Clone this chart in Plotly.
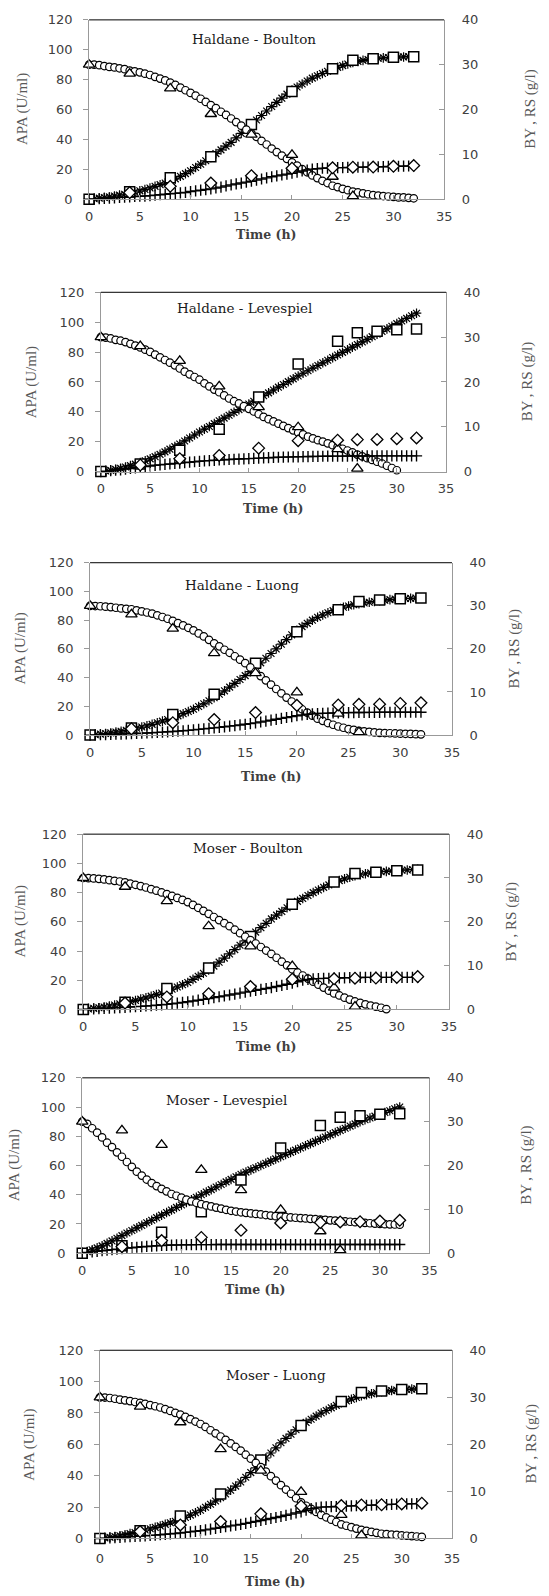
import plotly.graph_objects as go

W, H = 549, 1596

# ---------------- time grid of the model curves (h) ----------------
TIME = [0.0, 0.5, 1.0, 1.5, 2.0, 2.5, 3.0, 3.5, 4.0, 4.5,
        5.0, 5.5, 6.0, 6.5, 7.0, 7.5, 8.0, 8.5, 9.0, 9.5,
        10.0, 10.5, 11.0, 11.5, 12.0, 12.5, 13.0, 13.5, 14.0, 14.5,
        15.0, 15.5, 16.0, 16.5, 17.0, 17.5, 18.0, 18.5, 19.0, 19.5,
        20.0, 20.5, 21.0, 21.5, 22.0, 22.5, 23.0, 23.5, 24.0, 24.5,
        25.0, 25.5, 26.0, 26.5, 27.0, 27.5, 28.0, 28.5, 29.0, 29.5,
        30.0, 30.5, 31.0, 31.5, 32.0]

# ---------------- experimental data ----------------
T_APA_EXP = [0, 4, 8, 12, 16, 20, 24, 26, 28, 30, 32]
APA_EXP = [0.0, 5.0, 14.3, 28.4, 50.0, 72.0, 87.3, 93.0, 94.0, 95.0, 95.4]      # U/ml
T_RS_EXP = [0, 4, 8, 12, 16, 20, 24, 26]
RS_EXP = [30.0, 28.0, 24.7, 19.0, 14.4, 9.9, 5.0, 0.67]                          # g/l
T_BY_EXP = [4, 8, 12, 16, 20, 24, 26, 28, 30, 32]
BY_EXP = [1.47, 2.87, 3.6, 5.23, 6.9, 7.0, 7.13, 7.17, 7.33, 7.5]                # g/l

# ---------------- model curves ----------------
# Haldane - Boulton
HB_APA = [0.0, 0.3, 0.7, 1.1, 1.5, 2.1, 2.7, 3.3, 4.0, 4.8,
          5.6, 6.5, 7.5, 8.6, 9.7, 10.8, 12.0, 13.6, 15.3, 17.1,
          19.0, 21.2, 23.4, 25.7, 28.0, 30.5, 33.0, 35.5, 38.0, 41.0,
          44.0, 47.0, 50.0, 53.0, 56.0, 59.0, 62.0, 64.8, 67.6, 70.3,
          73.0, 75.1, 77.1, 79.1, 81.0, 82.6, 84.1, 85.6, 87.0, 88.2,
          89.4, 90.5, 91.5, 92.2, 92.9, 93.5, 94.0, 94.3, 94.6, 94.8,
          95.0, 95.1, 95.2, 95.4, 95.5]
HB_RS = [30.0, 30.0, 29.9, 29.7, 29.5, 29.4, 29.2, 29.0, 28.7, 28.5,
         28.3, 28.0, 27.7, 27.3, 26.9, 26.5, 26.0, 25.5, 24.9, 24.3,
         23.7, 23.1, 22.4, 21.7, 21.0, 20.3, 19.5, 18.8, 18.0, 17.2,
         16.4, 15.5, 14.7, 13.9, 13.0, 12.2, 11.3, 10.5, 9.7, 9.0,
         8.2, 7.5, 6.7, 6.0, 5.3, 4.7, 4.1, 3.6, 3.0, 2.7,
         2.3, 2.0, 1.7, 1.5, 1.3, 1.1, 0.9, 0.8, 0.7, 0.6,
         0.5, 0.4, 0.4, 0.3, 0.2]
HB_BY = [0.0, 0.05, 0.1, 0.2, 0.25, 0.3, 0.4, 0.45, 0.5, 0.6,
         0.65, 0.7, 0.8, 0.9, 1.0, 1.1, 1.2, 1.3, 1.4, 1.5,
         1.7, 1.85, 2.0, 2.15, 2.3, 2.5, 2.7, 2.95, 3.2, 3.4,
         3.6, 3.8, 4.0, 4.25, 4.5, 4.75, 5.0, 5.2, 5.4, 5.6,
         5.8, 6.05, 6.3, 6.5, 6.7, 6.8, 6.9, 6.95, 7.0, 7.03,
         7.05, 7.08, 7.1, 7.12, 7.15, 7.18, 7.2, 7.23, 7.25, 7.3,
         7.33, 7.35, 7.38, 7.4, 7.43]

# Haldane - Levespiel
HL_APA = [0.0, 0.4, 0.8, 1.5, 2.2, 3.1, 4.0, 5.0, 6.0, 7.2,
          8.5, 10.0, 11.5, 13.2, 15.0, 16.7, 18.5, 20.5, 22.5, 24.5,
          26.5, 28.4, 30.2, 32.1, 34.0, 35.8, 37.7, 39.6, 41.5, 43.3,
          45.2, 47.1, 49.0, 50.8, 52.7, 54.6, 56.5, 58.3, 60.2, 62.1,
          64.0, 65.8, 67.5, 69.3, 71.0, 72.8, 74.5, 76.3, 78.0, 79.8,
          81.5, 83.3, 85.0, 86.8, 88.5, 90.3, 92.0, 93.8, 95.5, 97.3,
          99.0, 100.8, 102.5, 104.3, 106.0]
HL_RS = [30.0, 29.9, 29.7, 29.4, 29.2, 28.9, 28.5, 28.1, 27.7, 27.2,
         26.7, 26.1, 25.5, 24.9, 24.3, 23.7, 23.0, 22.3, 21.7, 21.1,
         20.5, 19.7, 19.0, 18.3, 17.7, 17.0, 16.3, 15.7, 15.2, 14.6,
         14.0, 13.4, 12.8, 12.2, 11.7, 11.2, 10.7, 10.2, 9.7, 9.2,
         8.7, 8.3, 7.8, 7.4, 7.0, 6.7, 6.3, 5.9, 5.5, 5.1,
         4.7, 4.3, 3.8, 3.4, 3.0, 2.6, 2.2, 1.8, 1.3, 0.8,
         0.3]
HL_BY = [0.0, 0.1, 0.2, 0.3, 0.4, 0.55, 0.7, 0.85, 1.0, 1.15,
         1.25, 1.4, 1.5, 1.6, 1.7, 1.8, 1.9, 2.0, 2.1, 2.2,
         2.3, 2.38, 2.45, 2.52, 2.6, 2.65, 2.7, 2.75, 2.8, 2.85,
         2.9, 2.95, 3.0, 3.05, 3.1, 3.15, 3.2, 3.22, 3.25, 3.28,
         3.3, 3.33, 3.35, 3.38, 3.4, 3.42, 3.43, 3.44, 3.45, 3.46,
         3.47, 3.48, 3.48, 3.49, 3.49, 3.5, 3.5, 3.5, 3.5, 3.5,
         3.5, 3.5, 3.5, 3.5, 3.5]

# Haldane - Luong
HLU_APA = [0.0, 0.3, 0.7, 1.1, 1.5, 2.1, 2.7, 3.3, 4.0, 4.8,
           5.6, 6.5, 7.5, 8.6, 9.7, 10.8, 12.0, 13.4, 14.9, 16.4,
           18.0, 19.9, 21.8, 23.9, 26.0, 28.4, 30.8, 33.4, 36.0, 38.7,
           41.4, 44.2, 47.0, 50.3, 53.5, 56.8, 60.0, 63.3, 66.5, 69.8,
           73.0, 75.5, 77.8, 80.0, 82.0, 83.6, 85.2, 86.6, 88.0, 89.0,
           89.9, 90.8, 91.5, 92.0, 92.5, 93.0, 93.5, 93.9, 94.3, 94.7,
           95.0, 95.1, 95.2, 95.4, 95.5]
HLU_RS = [30.0, 29.95, 29.9, 29.8, 29.7, 29.55, 29.4, 29.3, 29.2, 28.95,
          28.7, 28.45, 28.2, 27.8, 27.4, 27.0, 26.5, 26.0, 25.45, 24.9,
          24.3, 23.6, 22.9, 22.1, 21.3, 20.6, 19.8, 19.1, 18.3, 17.5,
          16.7, 15.7, 14.7, 13.7, 12.7, 11.7, 10.7, 9.7, 8.7, 7.8,
          6.8, 6.0, 5.2, 4.5, 3.8, 3.3, 2.8, 2.4, 2.0, 1.7,
          1.4, 1.2, 1.0, 0.87, 0.73, 0.63, 0.53, 0.48, 0.43, 0.38,
          0.33, 0.3, 0.27, 0.22, 0.17]
HLU_BY = [0.0, 0.04, 0.08, 0.11, 0.15, 0.2, 0.24, 0.28, 0.33, 0.38,
          0.44, 0.5, 0.55, 0.62, 0.69, 0.76, 0.83, 0.92, 1.01, 1.1,
          1.2, 1.32, 1.44, 1.55, 1.67, 1.8, 1.93, 2.07, 2.2, 2.35,
          2.5, 2.67, 2.83, 3.04, 3.25, 3.46, 3.67, 3.88, 4.08, 4.29,
          4.5, 4.67, 4.83, 4.92, 5.0, 5.05, 5.1, 5.13, 5.17, 5.19,
          5.21, 5.23, 5.25, 5.26, 5.27, 5.28, 5.29, 5.3, 5.3, 5.3,
          5.3, 5.3, 5.3, 5.3, 5.3]

# Moser - Boulton
MB_APA = [0.0, 0.4, 0.8, 1.2, 1.7, 2.4, 3.1, 3.8, 4.5, 5.4,
          6.2, 7.1, 8.0, 9.1, 10.2, 11.3, 12.5, 13.9, 15.4, 16.9,
          18.5, 20.6, 22.7, 24.8, 27.0, 29.7, 32.4, 35.2, 38.0, 41.0,
          44.0, 47.0, 50.0, 53.0, 56.0, 59.0, 62.0, 64.6, 67.1, 69.6,
          72.0, 74.0, 76.0, 78.0, 80.0, 81.8, 83.6, 85.3, 87.0, 88.2,
          89.4, 90.5, 91.5, 92.2, 92.9, 93.5, 94.0, 94.3, 94.5, 94.8,
          95.0, 95.3, 95.5, 95.8, 96.0]
MB_RS = [30.0, 29.95, 29.9, 29.8, 29.67, 29.5, 29.35, 29.2, 29.0, 28.7,
         28.45, 28.15, 27.83, 27.45, 27.1, 26.7, 26.33, 25.9, 25.45, 25.0,
         24.5, 23.85, 23.2, 22.5, 21.83, 21.1, 20.4, 19.7, 19.0, 18.2,
         17.4, 16.6, 15.83, 15.05, 14.25, 13.45, 12.67, 11.8, 10.9, 10.05,
         9.17, 8.45, 7.75, 7.05, 6.33, 5.65, 5.0, 4.3, 3.67, 3.2,
         2.7, 2.25, 1.83, 1.5, 1.17, 0.9, 0.67, 0.4, 0.1]
MB_BY = [0.0, 0.06, 0.12, 0.19, 0.25, 0.31, 0.38, 0.44, 0.5, 0.57,
         0.65, 0.72, 0.8, 0.89, 0.98, 1.07, 1.17, 1.31, 1.45, 1.6,
         1.75, 1.93, 2.12, 2.31, 2.5, 2.7, 2.9, 3.1, 3.3, 3.52,
         3.73, 3.95, 4.17, 4.38, 4.58, 4.79, 5.0, 5.25, 5.5, 5.75,
         6.0, 6.33, 6.67, 6.85, 7.0, 7.05, 7.1, 7.13, 7.17, 7.2,
         7.23, 7.27, 7.3, 7.31, 7.32, 7.33, 7.33, 7.33, 7.33, 7.33,
         7.33, 7.33, 7.33, 7.33, 7.33]

# Moser - Levespiel
ML_APA = [0.0, 1.1, 2.3, 3.6, 5.0, 6.7, 8.4, 10.2, 12.0, 13.8,
          15.5, 17.3, 19.0, 20.8, 22.5, 24.3, 26.0, 27.8, 29.5, 31.3,
          33.0, 34.8, 36.5, 38.3, 40.0, 41.8, 43.5, 45.3, 47.0, 48.8,
          50.5, 52.3, 54.0, 55.5, 57.0, 58.5, 60.0, 61.5, 63.0, 64.5,
          66.0, 67.5, 69.0, 70.5, 72.0, 73.5, 75.0, 76.5, 78.0, 79.5,
          81.0, 82.5, 84.0, 85.5, 87.0, 88.5, 90.0, 91.3, 92.5, 93.8,
          95.0, 96.3, 97.5, 98.8, 100.0]
ML_RS = [30.0, 29.5, 28.5, 27.5, 26.4, 25.2, 24.2, 23.0, 22.0, 20.8,
         19.7, 18.6, 17.7, 16.8, 16.0, 15.3, 14.67, 14.1, 13.5, 13.1,
         12.67, 12.2, 11.83, 11.5, 11.17, 10.9, 10.67, 10.4, 10.17, 9.9,
         9.67, 9.5, 9.33, 9.2, 9.08, 8.95, 8.83, 8.7, 8.58, 8.45,
         8.33, 8.25, 8.17, 8.08, 8.0, 7.92, 7.83, 7.75, 7.67, 7.58,
         7.5, 7.42, 7.33, 7.25, 7.17, 7.08, 7.0, 6.92, 6.83, 6.75,
         6.67, 6.62, 6.58, 6.54, 6.5]
ML_BY = [0.0, 0.15, 0.3, 0.43, 0.55, 0.68, 0.8, 0.93, 1.05, 1.15,
         1.25, 1.35, 1.45, 1.53, 1.6, 1.68, 1.75, 1.8, 1.85, 1.88,
         1.9, 1.92, 1.93, 1.94, 1.95, 1.96, 1.96, 1.97, 1.97, 1.97,
         1.97, 1.97, 1.97, 1.97, 1.97, 1.97, 1.97, 1.97, 1.97, 1.97,
         1.97, 1.97, 1.97, 1.97, 1.97, 1.97, 1.97, 1.97, 1.97, 1.97,
         1.97, 1.97, 1.97, 1.97, 1.97, 1.97, 1.97, 1.97, 1.97, 1.97,
         1.97, 1.97, 1.97, 1.97, 1.97]

# Moser - Luong
MLU_APA = [0.0, 0.4, 0.8, 1.2, 1.7, 2.4, 3.1, 3.8, 4.5, 5.4,
           6.2, 7.1, 8.0, 9.0, 10.0, 11.0, 12.0, 13.4, 14.9, 16.4,
           18.0, 19.9, 21.8, 23.9, 26.0, 28.4, 30.8, 33.4, 36.0, 39.0,
           42.0, 45.0, 48.0, 51.3, 54.5, 57.8, 61.0, 63.8, 66.5, 69.3,
           72.0, 74.0, 76.0, 78.0, 80.0, 81.6, 83.3, 84.9, 86.5, 87.7,
           88.8, 89.9, 91.0, 91.6, 92.3, 92.9, 93.5, 93.9, 94.3, 94.6,
           95.0, 95.1, 95.2, 95.4, 95.5]
MLU_RS = [30.0, 29.95, 29.85, 29.7, 29.5, 29.35, 29.2, 29.0, 28.83, 28.6,
          28.35, 28.1, 27.83, 27.5, 27.1, 26.7, 26.33, 25.85, 25.35, 24.85,
          24.33, 23.7, 23.0, 22.35, 21.67, 20.95, 20.2, 19.45, 18.67, 17.8,
          16.95, 16.05, 15.17, 14.2, 13.25, 12.3, 11.33, 10.4, 9.5, 8.55,
          7.67, 6.95, 6.3, 5.65, 5.0, 4.5, 4.0, 3.5, 3.0, 2.7,
          2.4, 2.1, 1.83, 1.6, 1.4, 1.2, 1.0, 0.92, 0.83, 0.75,
          0.67, 0.58, 0.5, 0.42, 0.33]
MLU_BY = [0.0, 0.06, 0.12, 0.19, 0.25, 0.31, 0.38, 0.44, 0.5, 0.57,
          0.65, 0.72, 0.8, 0.89, 0.98, 1.07, 1.17, 1.29, 1.41, 1.53,
          1.65, 1.82, 1.99, 2.16, 2.33, 2.5, 2.67, 2.83, 3.0, 3.2,
          3.42, 3.62, 3.83, 4.04, 4.25, 4.46, 4.67, 4.92, 5.17, 5.42,
          5.67, 6.0, 6.33, 6.5, 6.67, 6.71, 6.75, 6.79, 6.83, 6.87,
          6.92, 6.96, 7.0, 7.04, 7.08, 7.12, 7.17, 7.21, 7.25, 7.29,
          7.33, 7.36, 7.38, 7.41, 7.43]

PANEL_TITLES = ["Haldane - Boulton", "Haldane - Levespiel", "Haldane - Luong",
                "Moser - Boulton", "Moser - Levespiel", "Moser - Luong"]
MODELS = [(HB_APA, HB_RS, HB_BY), (HL_APA, HL_RS, HL_BY), (HLU_APA, HLU_RS, HLU_BY),
          (MB_APA, MB_RS, MB_BY), (ML_APA, ML_RS, ML_BY), (MLU_APA, MLU_RS, MLU_BY)]

X_TICKS = [0, 5, 10, 15, 20, 25, 30, 35]
APA_TICKS = [0, 20, 40, 60, 80, 100, 120]
G_TICKS = [0, 10, 20, 30, 40]

# ---------------- layout geometry (pixels) ----------------
GEOM = [
    dict(L=87, R=450, T=13, B=194, tx=256, ty=32, timey=230, lx=19, rx=538, xs=5),
    dict(L=99, R=452, T=288, B=469, tx=246, ty=304, timey=506, lx=29, rx=536, xs=5),
    dict(L=88, R=458, T=561, B=735, tx=243, ty=583, timey=777, lx=17, rx=522, xs=5),
    dict(L=81, R=455, T=835, B=1012, tx=249, ty=849, timey=1049, lx=17, rx=519, xs=5),
    dict(L=80, R=435, T=1081, B=1258, tx=227, ty=1103, timey=1295, lx=11, rx=534, xs=5),
    dict(L=98, R=458, T=1356, B=1546, tx=278, ty=1381, timey=1589, lx=26, rx=539, xs=8),
]

TICK_FONT = dict(family="DejaVu Sans", size=13, color="#404040")
AX_COLOR = "#999999"


def px_x(v):
    return v / W


def px_y(v):
    return 1 - v / H


fig = go.Figure()
layout = dict(width=W, height=H, margin=dict(l=0, r=0, t=0, b=0), autosize=False,
              paper_bgcolor="white", plot_bgcolor="white", showlegend=False)
annotations = []
shapes = []

for i, (title, (apa_m, rs_m, by_m), g) in enumerate(zip(PANEL_TITLES, MODELS, GEOM)):
    n = i + 1
    xa = "x" if n == 1 else f"x{n}"
    yl_id = 2 * n - 1
    yr_id = 2 * n
    ya = "y" if yl_id == 1 else f"y{yl_id}"
    yb = f"y{yr_id}"
    xkey = "xaxis" if n == 1 else f"xaxis{n}"
    ylkey = "yaxis" if yl_id == 1 else f"yaxis{yl_id}"
    yrkey = f"yaxis{yr_id}"

    dom_x = [px_x(g["L"]), px_x(g["R"])]
    dom_y = [px_y(g["B"]), px_y(g["T"])]

    layout[xkey] = dict(domain=dom_x, range=[0, 35], tickvals=X_TICKS, ticks="inside",
                        ticklen=4, tickcolor=AX_COLOR, showline=True, linecolor=AX_COLOR,
                        linewidth=1, showgrid=False, zeroline=False, anchor=ya,
                        tickfont=TICK_FONT, ticklabelstandoff=g["xs"], fixedrange=True)
    layout[ylkey] = dict(domain=dom_y, range=[0, 120], tickvals=APA_TICKS, ticks="outside",
                         ticklen=5, tickcolor=AX_COLOR, showline=True, linecolor=AX_COLOR,
                         linewidth=1, showgrid=False, zeroline=False, anchor=xa,
                         tickfont=TICK_FONT, ticklabelstandoff=8, fixedrange=True)
    layout[yrkey] = dict(range=[0, 40], tickvals=G_TICKS, ticks="inside", ticklen=5,
                         tickcolor=AX_COLOR, showline=True, linecolor=AX_COLOR, linewidth=1,
                         showgrid=False, zeroline=False, anchor=xa, overlaying=ya,
                         side="right", tickfont=TICK_FONT, ticklabelstandoff=14,
                         fixedrange=True)

    # top black frame line
    shapes.append(dict(type="line", xref="paper", yref="paper",
                       x0=dom_x[0], x1=dom_x[1], y0=dom_y[1], y1=dom_y[1],
                       line=dict(color="black", width=1)))

    fig.add_trace(go.Scatter(x=TIME[:len(apa_m)], y=apa_m, mode="markers", xaxis=xa, yaxis=ya,
                             cliponaxis=False,
                             marker=dict(symbol="asterisk-open", size=8, color="black",
                                         line=dict(color="black", width=1.2))))
    fig.add_trace(go.Scatter(x=T_APA_EXP, y=APA_EXP, mode="markers", xaxis=xa, yaxis=ya,
                             cliponaxis=False,
                             marker=dict(symbol="square", size=10, color="white",
                                         line=dict(color="black", width=1.5))))
    fig.add_trace(go.Scatter(x=TIME[:len(rs_m)], y=rs_m, mode="markers", xaxis=xa, yaxis=yb,
                             cliponaxis=False,
                             marker=dict(symbol="circle", size=7.5, color="white",
                                         line=dict(color="black", width=1.2))))
    fig.add_trace(go.Scatter(x=TIME[:len(by_m)], y=by_m, mode="markers", xaxis=xa, yaxis=yb,
                             cliponaxis=False,
                             marker=dict(symbol="cross-thin-open", size=8, color="black",
                                         line=dict(color="black", width=1.4))))
    fig.add_trace(go.Scatter(x=T_RS_EXP, y=RS_EXP, mode="markers", xaxis=xa, yaxis=yb,
                             cliponaxis=False,
                             marker=dict(symbol="triangle-up", size=10, color="white",
                                         line=dict(color="black", width=1.3))))
    fig.add_trace(go.Scatter(x=T_BY_EXP, y=BY_EXP, mode="markers", xaxis=xa, yaxis=yb,
                             cliponaxis=False,
                             marker=dict(symbol="diamond", size=9, color="white",
                                         line=dict(color="black", width=1.3))))

    cy = (g["T"] + g["B"]) / 2
    cx = (g["L"] + g["R"]) / 2
    annotations += [
        dict(text=title, x=px_x(g["tx"]), y=px_y(g["ty"]), xref="paper", yref="paper",
             showarrow=False, xanchor="center", yanchor="middle",
             font=dict(family="DejaVu Serif", size=13.5, color="#1a1a1a")),
        dict(text="<b>Time (h)</b>", x=px_x(cx), y=px_y(g["timey"]), xref="paper",
             yref="paper", showarrow=False, xanchor="center", yanchor="middle",
             font=dict(family="DejaVu Serif", size=12.5, color="#404040")),
        dict(text="APA (U/ml)", x=px_x(g["lx"]), y=px_y(cy), xref="paper", yref="paper",
             showarrow=False, xanchor="center", yanchor="middle", textangle=-90,
             font=dict(family="Liberation Serif", size=15, color="#595959")),
        dict(text="BY , RS (g/l)", x=px_x(g["rx"]), y=px_y(cy), xref="paper", yref="paper",
             showarrow=False, xanchor="center", yanchor="middle", textangle=-90,
             font=dict(family="Liberation Serif", size=15, color="#595959")),
    ]

layout["annotations"] = annotations
layout["shapes"] = shapes
fig.update_layout(**layout)
fig.write_html("out.html", config={"displayModeBar": False, "staticPlot": True},
               post_script=("document.body.style.margin='0';"
                            "document.body.style.padding='0';"
                            "document.documentElement.style.overflow='hidden';"))
